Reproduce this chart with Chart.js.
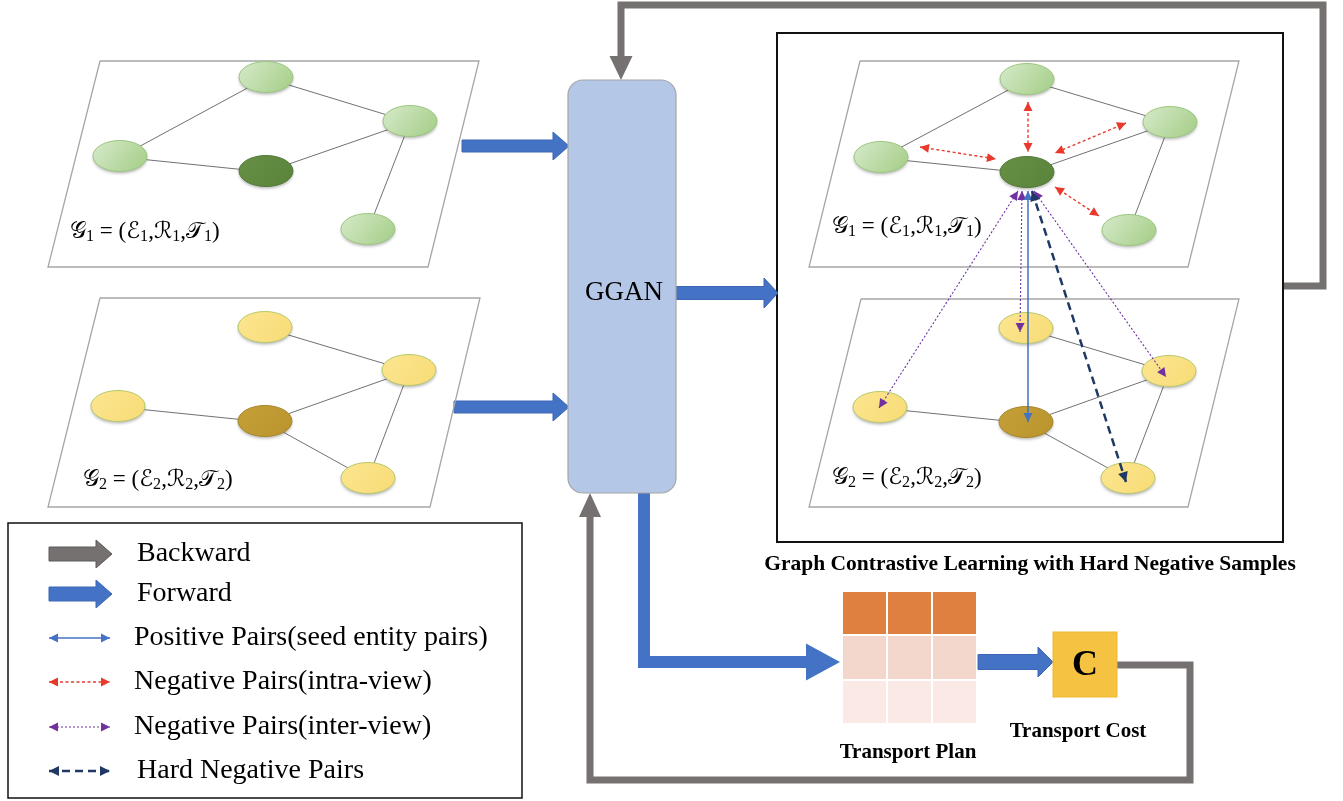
<!DOCTYPE html>
<html>
<head>
<meta charset="utf-8">
<title>GGAN contrastive learning diagram</title>
<script src="https://cdn.jsdelivr.net/npm/chart.js@4.4.1/dist/chart.umd.min.js"></script>
<style>
  html, body { margin: 0; padding: 0; background: #fff; }
  #wrap { position: relative; width: 1343px; height: 801px; }
</style>
</head>
<body>
<div id="wrap"><canvas id="diagram"></canvas></div>
<script>
// node centres (x right, y down)
const leftG1Nodes = [[266, 78], [410, 122], [120, 157], [266, 172], [368, 230]];
const leftG2Nodes = [[265, 328], [409, 371], [118, 407], [265, 422], [368, 479]];
const rightG1Nodes = [[1027, 80], [1170, 123], [881, 158], [1027, 173], [1129, 231]];
const rightG2Nodes = [[1026, 329], [1169, 372], [880, 408], [1026, 423], [1128, 479]];
const anchorNode = 3;

// edges as index pairs into the node lists
const g1Edges = [[2, 0], [0, 1], [2, 3], [3, 1], [1, 4]];
const g2Edges = [[0, 1], [2, 3], [3, 1], [3, 4], [1, 4]];

// graph planes (parallelogram corners)
const leftG1Plane = [[100, 61], [479, 61], [428, 267], [48, 267]];
const leftG2Plane = [[100, 298], [480, 298], [430, 507], [48, 507]];
const rightG1Plane = [[860, 61], [1239, 61], [1188, 267], [809, 267]];
const rightG2Plane = [[861, 299], [1239, 299], [1188, 507], [809, 507]];

// pair arrows in the contrastive panel
const intraViewPairs = [
  [[920, 147], [996, 159]],
  [[1028, 102], [1028, 152]],
  [[1126, 123], [1055, 153]],
  [[1055, 187], [1099, 216]]
];
const interViewPairs = [
  [[1022, 191], [1020, 332]],
  [[1018, 191], [879, 408]],
  [[1034, 191], [1166, 377]]
];
const seedPairs = [[[1028, 191], [1028, 422]]];
const hardNegativePairs = [[[1032, 191], [1126, 482]]];

const legendLabels = ['Backward', 'Forward', 'Positive Pairs(seed entity pairs)',
  'Negative Pairs(intra-view)', 'Negative Pairs(inter-view)', 'Hard Negative Pairs'];
const legendRowsY = [554, 594, 638, 682, 727, 771];

const transportPlanRows = ['#df8041', '#f4d7cc', '#fae9e5'];

const SERIF = '"Liberation Serif", "Times New Roman", serif';
const MATH = '"Liberation Serif", "DejaVu Serif", "DejaVu Sans", serif';
const GRAY = '#767171';
const BLUE = '#4472c4';

function makeNode(top, bottom, stroke) {
  const c = document.createElement('canvas');
  c.width = 64;
  c.height = 42;
  const g = c.getContext('2d');
  g.shadowColor = 'rgba(0,0,0,0.28)';
  g.shadowBlur = 3;
  g.shadowOffsetY = 2;
  const grad = g.createLinearGradient(10, 5, 50, 37);
  grad.addColorStop(0, top);
  grad.addColorStop(1, bottom);
  g.beginPath();
  g.ellipse(32, 20, 27, 15.5, 0, 0, Math.PI * 2);
  g.fillStyle = grad;
  g.fill();
  g.shadowColor = 'transparent';
  g.lineWidth = 1;
  g.strokeStyle = stroke;
  g.stroke();
  return c;
}

const greenNode = makeNode('#d3e8c6', '#a8d08c', '#9cc77f');
const darkGreenNode = makeNode('#668f45', '#5b853a', '#52793a');
const yellowNode = makeNode('#fce58f', '#f8dc78', '#b7c96c');
const goldNode = makeNode('#c49f38', '#bb952e', '#a8862a');

const pts = list => list.map(p => ({ x: p[0], y: p[1] }));

function planeDataset(corners) {
  return {
    data: pts(corners.concat([corners[0]])),
    showLine: true, pointRadius: 0, borderColor: '#a6a6a6', borderWidth: 1.3,
    tension: 0, order: 6
  };
}

function edgeDatasets(nodes, edges) {
  return edges.map(e => ({
    data: pts([nodes[e[0]], nodes[e[1]]]),
    showLine: true, pointRadius: 0, borderColor: '#4d4d4d', borderWidth: 0.8, order: 5
  }));
}

function nodeDataset(nodes, light, dark) {
  return {
    data: pts(nodes),
    pointStyle: nodes.map((n, i) => i === anchorNode ? dark : light),
    pointRadius: 16, order: 4
  };
}

function pairDatasets(pairs, color, dash, width, head) {
  return pairs.map(p => ({
    data: pts(p),
    showLine: true, pointRadius: 0, borderColor: color, borderWidth: width,
    borderDash: dash, order: 1, heads: head
  }));
}

const datasets = [].concat(
  [planeDataset(leftG1Plane), planeDataset(leftG2Plane), planeDataset(rightG1Plane), planeDataset(rightG2Plane)],
  edgeDatasets(leftG1Nodes, g1Edges), edgeDatasets(leftG2Nodes, g2Edges),
  edgeDatasets(rightG1Nodes, g1Edges), edgeDatasets(rightG2Nodes, g2Edges),
  [nodeDataset(leftG1Nodes, greenNode, darkGreenNode), nodeDataset(leftG2Nodes, yellowNode, goldNode),
   nodeDataset(rightG1Nodes, greenNode, darkGreenNode), nodeDataset(rightG2Nodes, yellowNode, goldNode)],
  pairDatasets(intraViewPairs, '#e8392b', [3, 2.5], 1.4, { len: 9, half: 4.5 }),
  pairDatasets(interViewPairs, '#7030a0', [2, 2], 1.1, { len: 9, half: 4.5 }),
  pairDatasets(seedPairs, BLUE, [], 1.5, { len: 9, half: 4.5 }),
  pairDatasets(hardNegativePairs, '#1f3864', [8, 5], 2.5, { len: 10, half: 5 }),
  // legend samples
  pairDatasets([[[49, legendRowsY[2]], [110, legendRowsY[2]]]], BLUE, [], 1.5, { len: 9, half: 4.5 }),
  pairDatasets([[[49, legendRowsY[3]], [110, legendRowsY[3]]]], '#e8392b', [3, 2.5], 1.4, { len: 9, half: 4.5 }),
  pairDatasets([[[49, legendRowsY[4]], [110, legendRowsY[4]]]], '#7030a0', [2, 2], 1.1, { len: 9, half: 4.5 }),
  pairDatasets([[[49, legendRowsY[5]], [110, legendRowsY[5]]]], '#1f3864', [8, 5], 2.5, { len: 10, half: 5 })
);

const diagramPlugin = {
  id: 'diagram',
  beforeDatasetsDraw(chart) {
    const { ctx, scales: { x, y } } = chart;
    const P = (a, b) => [x.getPixelForValue(a), y.getPixelForValue(b)];

    function polyline(points, color, width) {
      ctx.beginPath();
      points.forEach((p, i) => {
        const q = P(p[0], p[1]);
        if (i === 0) ctx.moveTo(q[0], q[1]); else ctx.lineTo(q[0], q[1]);
      });
      ctx.strokeStyle = color;
      ctx.lineWidth = width;
      ctx.lineJoin = 'miter';
      ctx.stroke();
    }
    function triangle(a, b, c, color) {
      ctx.beginPath();
      [a, b, c].forEach((p, i) => {
        const q = P(p[0], p[1]);
        if (i === 0) ctx.moveTo(q[0], q[1]); else ctx.lineTo(q[0], q[1]);
      });
      ctx.closePath();
      ctx.fillStyle = color;
      ctx.fill();
    }
    // horizontal block arrow
    function blockArrow(x0, x1, yc, bodyHalf, headHalf, headLen, fill, stroke) {
      const shape = [[x0, yc - bodyHalf], [x1 - headLen, yc - bodyHalf], [x1 - headLen, yc - headHalf],
        [x1, yc], [x1 - headLen, yc + headHalf], [x1 - headLen, yc + bodyHalf], [x0, yc + bodyHalf]];
      ctx.beginPath();
      shape.forEach((p, i) => {
        const q = P(p[0], p[1]);
        if (i === 0) ctx.moveTo(q[0], q[1]); else ctx.lineTo(q[0], q[1]);
      });
      ctx.closePath();
      ctx.fillStyle = fill;
      ctx.fill();
      ctx.strokeStyle = stroke;
      ctx.lineWidth = 1;
      ctx.stroke();
    }
    function rect(x0, y0, x1, y1, fill, stroke, lw) {
      const a = P(x0, y0), b = P(x1, y1);
      if (fill) { ctx.fillStyle = fill; ctx.fillRect(a[0], a[1], b[0] - a[0], b[1] - a[1]); }
      if (stroke) { ctx.strokeStyle = stroke; ctx.lineWidth = lw; ctx.strokeRect(a[0], a[1], b[0] - a[0], b[1] - a[1]); }
    }

    ctx.save();
    // backward paths (gray)
    polyline([[1283, 286], [1323, 286], [1323, 5], [621, 5], [621, 58]], GRAY, 7);
    triangle([609.5, 56], [632.5, 56], [621, 80], GRAY);
    polyline([[1117, 665], [1190, 665], [1190, 780], [590, 780], [590, 515]], GRAY, 7);
    triangle([579, 517], [601, 517], [590, 493], GRAY);

    // contrastive panel frame
    rect(777, 33, 1283, 542, null, '#111', 2);

    // forward L path from GGAN to the transport plan
    polyline([[644, 492], [644, 662], [807, 662]], BLUE, 12);
    triangle([806, 643.5], [806, 680.5], [840, 662], BLUE);

    // forward block arrows
    blockArrow(462, 569, 146, 6, 14, 16, BLUE, '#3d67b5');
    blockArrow(454, 569, 407, 6, 14, 16, BLUE, '#3d67b5');
    blockArrow(676, 778, 293, 6.5, 15, 14, BLUE, '#3d67b5');
    blockArrow(978, 1053, 662, 7.5, 15, 15, BLUE, '#3d67b5');

    // GGAN module
    const g0 = P(568, 80), g1 = P(676, 493);
    ctx.beginPath();
    ctx.roundRect(g0[0], g0[1], g1[0] - g0[0], g1[1] - g0[1], 15);
    ctx.fillStyle = '#b4c7e7';
    ctx.fill();
    ctx.strokeStyle = '#a6a6a6';
    ctx.lineWidth = 1.2;
    ctx.stroke();

    // transport plan matrix
    const cols = [842, 887, 932, 977];
    const rows = [591, 635, 680, 724];
    transportPlanRows.forEach((c, r) => {
      for (let k = 0; k < 3; k++) {
        rect(cols[k] + 1, rows[r] + 1, cols[k + 1] - 1, rows[r + 1] - 1, c);
      }
    });

    // transport cost box
    rect(1053, 632, 1117, 697, '#f5c242', '#f0b930', 1);

    // legend frame and block arrow samples
    rect(8, 523, 522, 798, null, '#111', 1.5);
    blockArrow(49, 112, legendRowsY[0], 7, 14, 16, GRAY, '#5f5b5b');
    blockArrow(49, 112, legendRowsY[1], 7, 14, 16, BLUE, '#3d67b5');
    ctx.restore();
  },
  afterDatasetsDraw(chart) {
    const { ctx, scales: { x, y } } = chart;
    const P = (a, b) => [x.getPixelForValue(a), y.getPixelForValue(b)];
    ctx.save();

    // arrow heads on the pair lines
    chart.data.datasets.forEach((ds, i) => {
      if (!ds.heads) return;
      const m = chart.getDatasetMeta(i).data;
      const a = m[0], b = m[1];
      const ends = [[a, b], [b, a]];
      ends.forEach(([tip, from]) => {
        const ang = Math.atan2(tip.y - from.y, tip.x - from.x);
        const L = ds.heads.len, H = ds.heads.half;
        ctx.beginPath();
        ctx.moveTo(tip.x, tip.y);
        ctx.lineTo(tip.x - L * Math.cos(ang) + H * Math.sin(ang), tip.y - L * Math.sin(ang) - H * Math.cos(ang));
        ctx.lineTo(tip.x - L * Math.cos(ang) - H * Math.sin(ang), tip.y - L * Math.sin(ang) + H * Math.cos(ang));
        ctx.closePath();
        ctx.fillStyle = ds.borderColor;
        ctx.fill();
      });
    });

    ctx.fillStyle = '#000';
    ctx.textBaseline = 'middle';

    function mathLabel(x0, yc, idx, size) {
      const parts = [['\u{1D4A2}', 0], [idx, 1], [' = (', 0], ['\u2130', 0], [idx, 1], [',', 0],
        ['\u211B', 0], [idx, 1], [',', 0], ['\u{1D4AF}', 0], [idx, 1], [')', 0]];
      let cx = P(x0, yc)[0];
      const cy = P(x0, yc)[1];
      ctx.textAlign = 'left';
      parts.forEach(([t, sub]) => {
        ctx.font = (sub ? size * 0.7 : size) + 'px ' + MATH;
        ctx.fillText(t, cx, sub ? cy + size * 0.22 : cy);
        cx += ctx.measureText(t).width;
      });
    }
    mathLabel(70, 232, '1', 23);
    mathLabel(83, 480, '2', 23);
    mathLabel(832, 227, '1', 23);
    mathLabel(832, 478, '2', 23);

    function text(t, a, b, font, align) {
      const q = P(a, b);
      ctx.font = font;
      ctx.textAlign = align;
      ctx.fillText(t, q[0], q[1]);
    }
    text('GGAN', 624, 293, '27px ' + SERIF, 'center');
    text('Graph Contrastive Learning with Hard Negative Samples', 1030, 564, 'bold 21.5px ' + SERIF, 'center');
    text('Transport Plan', 908, 753, 'bold 21px ' + SERIF, 'center');
    text('Transport Cost', 1078, 732, 'bold 21px ' + SERIF, 'center');
    text('C', 1085, 666, 'bold 36px ' + SERIF, 'center');

    legendLabels.forEach((t, i) => {
      text(t, i === 2 || i === 3 || i === 4 ? 134 : 137, legendRowsY[i], '28px ' + SERIF, 'left');
    });
    ctx.restore();
  }
};

new Chart(document.getElementById('diagram'), {
  type: 'scatter',
  data: { datasets },
  options: {
    responsive: true,
    maintainAspectRatio: false,
    animation: false,
    events: [],
    layout: { padding: 0, autoPadding: false },
    plugins: { legend: { display: false }, tooltip: { enabled: false } },
    scales: {
      x: { type: 'linear', min: 0, max: 1343, display: false },
      y: { type: 'linear', min: 0, max: 801, reverse: true, display: false }
    }
  },
  plugins: [diagramPlugin]
});
</script>
</body>
</html>
